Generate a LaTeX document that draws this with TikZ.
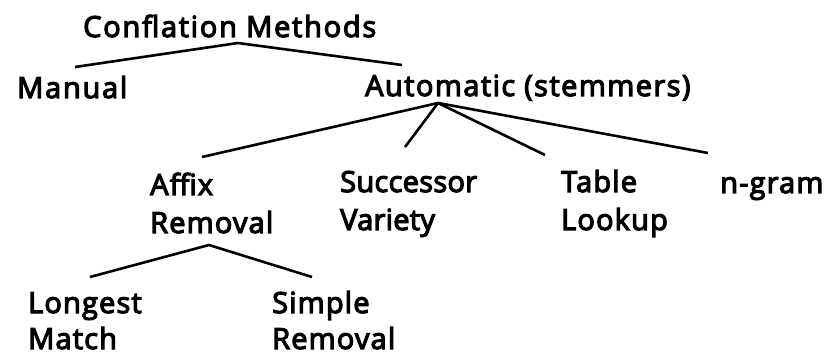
\documentclass[tikz,border=0pt]{standalone}
\usepackage{fontspec}
\newfontfamily\lblfont{Open Sans}[FakeBold=4,LetterSpace=4]
\newcommand\twoln[2]{\vtop{\hbox{#1}\hbox{#2}}}
\newcommand\lsp[1]{\addfontfeature{LetterSpace=#1}}
\begin{document}
\begin{tikzpicture}[x=1pt,y=-1pt,
  lbl/.style={anchor=base west,inner sep=0pt,font=\lblfont\fontsize{29}{38}\selectfont},
  lbltight/.style={lbl,font=\lblfont\fontsize{29}{36}\selectfont},
  branch/.style={line width=2.6pt,line join=round}]
\useasboundingbox (0,0) rectangle (830,358);
% labels
\node[lbl] (cm)  at (83,37)  {\lsp{6}Conflation Methods};
\node[lbl] (man) at (17,98)  {\lsp{6}Manual};
\node[lbl] (aut) at (365,96) {\lsp{5}Automatic (stemmers)};
\node[lbl] (aff) at (150,195) {\twoln{Affix}{Removal}};
\node[lbl] (suc) at (340,192) {\lsp{1}\twoln{Successor}{Variety}};
\node[lbl] (tab) at (561,192) {\twoln{Table}{Lookup}};
\node[lbl] (ng)  at (720,193) {n-gram};
\node[lbltight] (lon) at (28,313) {\twoln{Longest}{Match}};
\node[lbltight] (sim) at (272,313) {\twoln{Simple}{Removal}};
% connector end points
\coordinate (cmB)  at (238,43);
\coordinate (manT) at (75,67);
\coordinate (autT) at (402,65);
\coordinate (autB) at (438,103);
\coordinate (affT) at (202,157);
\coordinate (sucT) at (405,147);
\coordinate (tabT) at (545,155);
\coordinate (ngT)  at (708,153);
\coordinate (affB) at (209,245);
\coordinate (lonT) at (90,277);
\coordinate (simT) at (312,277);
% connectors
\draw[branch] (manT) -- (cmB) -- (autT);
\draw[branch] (affT) -- (autB) -- (sucT);
\draw[branch] (autB) -- (tabT);
\draw[branch] (autB) -- (ngT);
\draw[branch] (lonT) -- (affB) -- (simT);
\end{tikzpicture}
\end{document}
